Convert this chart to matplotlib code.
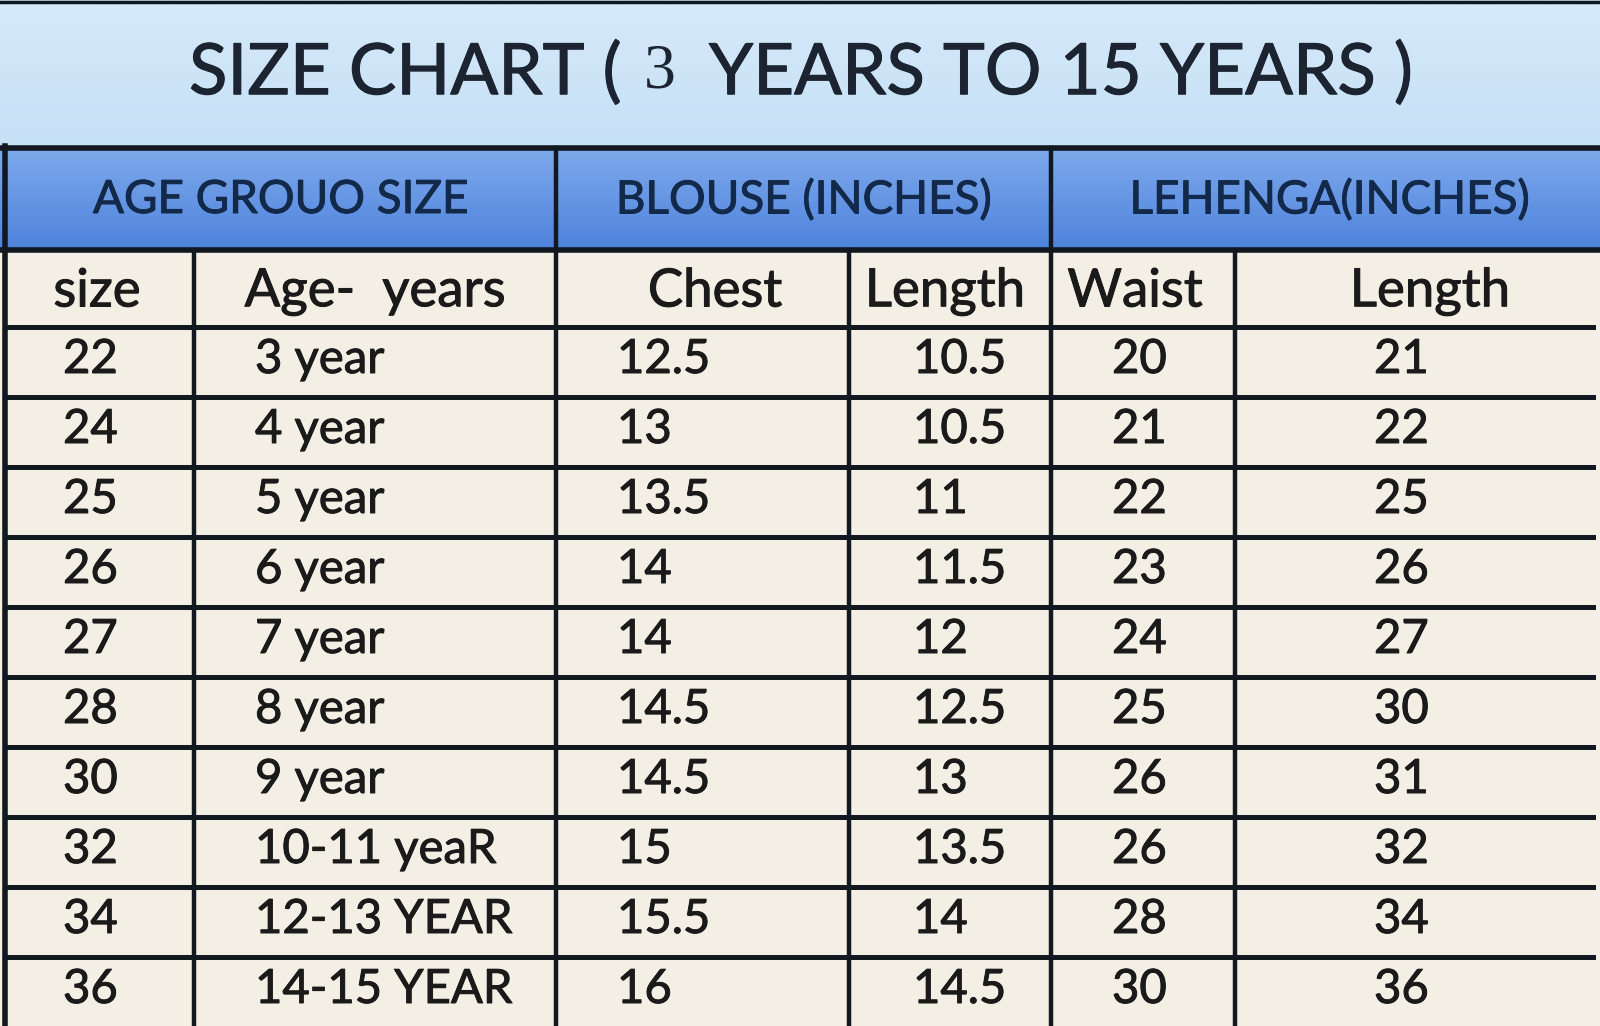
import matplotlib
matplotlib.use("Agg")
import matplotlib.pyplot as plt
import matplotlib.patheffects as pe
import numpy as np

plt.rcParams['font.family'] = ['Lato', 'DejaVu Sans']

# table content
title_left = "SIZE CHART ("
title_num = "3"
title_right = "YEARS TO 15 YEARS )"
groups = ["AGE GROUO SIZE", "BLOUSE (INCHES)", "LEHENGA(INCHES)"]
columns = ["size", "Age-  years", "Chest", "Length", "Waist", "Length"]
sizes = ["22", "24", "25", "26", "27", "28", "30", "32", "34", "36"]
ages = ["3 year", "4 year", "5 year", "6 year", "7 year", "8 year", "9 year",
        "10-11 yeaR", "12-13 YEAR", "14-15 YEAR"]
chest = ["12.5", "13", "13.5", "14", "14", "14.5", "14.5", "15", "15.5", "16"]
blouse_len = ["10.5", "10.5", "11", "11.5", "12", "12.5", "13", "13.5", "14", "14.5"]
waist = ["20", "21", "22", "23", "24", "25", "26", "26", "28", "30"]
lehenga_len = ["21", "22", "25", "26", "27", "30", "31", "32", "34", "36"]

W, H = 1600, 1026
fig = plt.figure(figsize=(W / 100, H / 100), dpi=100)
ax = fig.add_axes([0, 0, 1, 1])

dark = '#121820'
navy = '#13294a'
ink = '#1a1a1a'
cream = '#f3efe5'
heavy = [pe.withStroke(linewidth=0.7, foreground=ink)]
heavy_navy = [pe.withStroke(linewidth=0.7, foreground=navy)]

# backgrounds
grad = np.linspace(0, 1, 100).reshape(-1, 1)
ax.imshow(grad, extent=[0, W, 146, 0], cmap=matplotlib.colors.LinearSegmentedColormap.from_list(
    'tb', ['#d6eafa', '#c6e0f6']), aspect='auto', zorder=0)
ax.imshow(grad, extent=[0, W, 250, 148], cmap=matplotlib.colors.LinearSegmentedColormap.from_list(
    'hb', ['#7ea9ec', '#4e83dc']), aspect='auto', zorder=0)
ax.add_patch(plt.Rectangle((0, 250), W, H - 250, color=cream, zorder=0))
ax.set_xlim(0, W)
ax.set_ylim(H, 0)
ax.axis('off')

# title
ax.text(622, 73, title_left, ha='right', va='center', fontsize=51, color='#1b2430',
        path_effects=[pe.withStroke(linewidth=0.8, foreground='#1b2430')])
ax.text(660, 73, title_num, ha='center', va='center', fontsize=46, color='#1b2430',
        family=['Liberation Serif'])
ax.text(709, 73, title_right, ha='left', va='center', fontsize=51, color='#1b2430',
        path_effects=[pe.withStroke(linewidth=0.8, foreground='#1b2430')])

# grid lines
row_top = 327
row_h = 70
ax.plot([0, W], [2, 2], color=dark, lw=2.5)
ax.plot([0, W], [148, 148], color=dark, lw=4)
ax.plot([0, W], [250, 250], color=dark, lw=4)
for i in range(len(sizes)):
    y = row_top + i * row_h
    ax.plot([5, 1593], [y, y], color=dark, lw=3.6)
ax.plot([5, 5], [146, H], color=dark, lw=4)
for x in [556, 1051]:
    ax.plot([x, x], [148, H], color=dark, lw=3.2)
for x in [194, 849, 1235]:
    ax.plot([x, x], [250, H], color=dark, lw=3.2)

# group header
for label, cx in zip(groups, [281, 804, 1330]):
    ax.text(cx, 200, label, ha='center', va='center', fontsize=33, color=navy,
            path_effects=heavy_navy)

# column headers
col_x = [97, 375, 715, 945, 1135, 1430]
for label, cx in zip(columns, col_x):
    ax.text(cx, 292, label, ha='center', va='center', fontsize=38, color=ink,
            path_effects=heavy)

# data rows
for i in range(len(sizes)):
    cy = row_top + i * row_h + 33
    ax.text(63, cy, sizes[i], ha='left', va='center', fontsize=34, color=ink, path_effects=heavy)
    ax.text(255, cy, ages[i], ha='left', va='center', fontsize=34, color=ink, path_effects=heavy)
    ax.text(617, cy, chest[i], ha='left', va='center', fontsize=34, color=ink, path_effects=heavy)
    ax.text(913, cy, blouse_len[i], ha='left', va='center', fontsize=34, color=ink, path_effects=heavy)
    ax.text(1112, cy, waist[i], ha='left', va='center', fontsize=34, color=ink, path_effects=heavy)
    ax.text(1374, cy, lehenga_len[i], ha='left', va='center', fontsize=34, color=ink, path_effects=heavy)

fig.savefig('out.png', dpi=100)
